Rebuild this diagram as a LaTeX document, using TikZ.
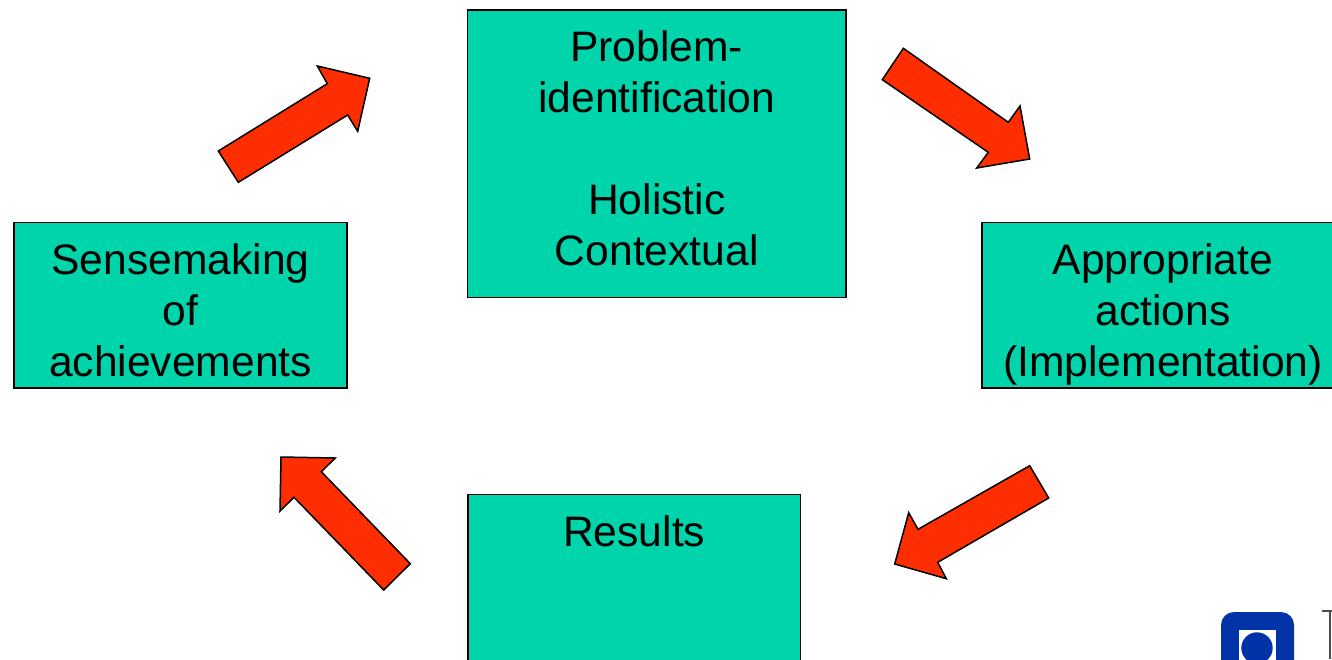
\documentclass[tikz,border=0pt]{standalone}
\usepackage{fontspec}
\setmainfont{Liberation Sans}
\definecolor{boxgreen}{HTML}{00D4AA}
\definecolor{arrowred}{HTML}{FF2E00}
\definecolor{logoblue}{HTML}{0033A8}
\tikzset{
  stagebox/.style={draw=black, fill=boxgreen, line width=1.4pt, rectangle, inner sep=0pt},
  stagetext/.style={anchor=north, inner sep=0pt, align=center, text=black, font=\fontsize{42.6}{51}\selectfont},
  blockarrow/.style={draw=black, fill=arrowred, line width=1.5pt, line join=miter}
}
\newcommand{\st}{\rule{0pt}{35.7pt}}
\begin{document}
\begin{tikzpicture}[x=1pt,y=-1pt]
\useasboundingbox (0,0) rectangle (1332,659);
\clip (0,0) rectangle (1332,659);
\fill[white] (0,0) rectangle (1332,659);

% boxes
\node[stagebox, minimum width=378.5pt, minimum height=287.5pt] (problem) at (656.75,153.75) {};
\node[stagebox, minimum width=333pt, minimum height=165.5pt] (sense) at (180.5,305.25) {};
\node[stagebox, minimum width=362pt, minimum height=165.5pt] (actions) at (1163,305.25) {};
\node[stagebox, minimum width=332.5pt, minimum height=200pt] (results) at (634.25,594.5) {};

% labels
\node[stagetext] (problemtext) at ([yshift=-16.5pt]problem.north) {\st Problem-\\identification\\[51pt]Holistic\\Contextual};
\node[stagetext] (sensetext) at ([yshift=-16.8pt]sense.north) {\st Sensemaking\\of\\achievements};
\node[stagetext] (actionstext) at ([yshift=-16.8pt]actions.north) {\st Appropriate\\actions\\(Implementation)};
\node[stagetext] (resultstext) at ([yshift=-16.3pt]results.north) {\st Results};

% block arrows
\draw[blockarrow] (218.3,151) -- (327.3,83.7) -- (317.3,66) -- (369.7,78.3) -- (357.7,131.3) -- (347.7,115) -- (238.3,182.3) -- cycle;
\draw[blockarrow] (903.3,48.3) -- (1008.3,122.3) -- (1020,106) -- (1029.7,159) -- (976.7,168) -- (988.3,152.3) -- (882.3,79.7) -- cycle;
\draw[blockarrow] (1029.7,465.7) -- (918,529.3) -- (908.7,512.7) -- (894.7,564) -- (946.3,578.7) -- (937.7,562.3) -- (1048.7,498) -- cycle;
\draw[blockarrow] (410.3,563.7) -- (321.3,471.7) -- (335.3,458) -- (281,457) -- (280,511) -- (294,497.3) -- (383.7,590) -- cycle;

% logo
\fill[logoblue, rounded corners=13pt] (1221,612) rectangle (1294,690);
\fill[white] (1239,629.5) rectangle (1276,680);
\fill[logoblue] (1257,648) circle (15.7pt);
\draw[black!70, line width=1.2pt] (1322,611) -- (1332,611);
\draw[black!70, line width=1.6pt] (1330,611) -- (1330,659);
\end{tikzpicture}
\end{document}
